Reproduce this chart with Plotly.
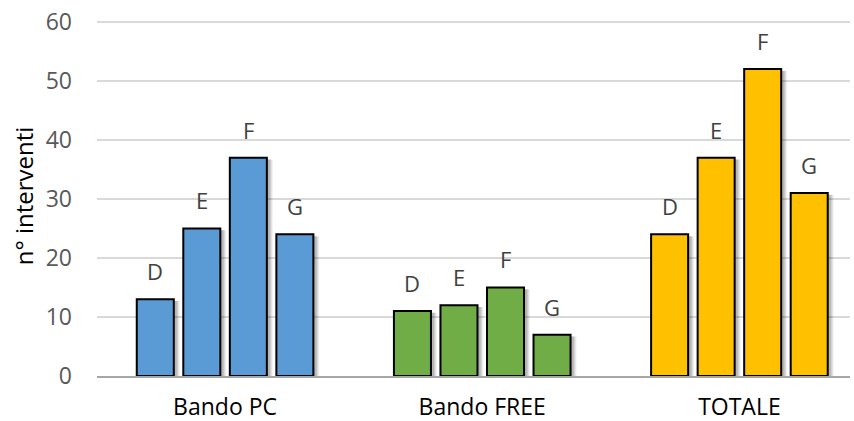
import plotly.graph_objects as go

categories = ["Bando PC", "Bando FREE", "TOTALE"]
series_names = ["D", "E", "F", "G"]
values_D = [13, 11, 24]
values_E = [25, 12, 37]
values_F = [37, 15, 52]
values_G = [24, 7, 31]
group_colors = ["#5B9BD5", "#70AD47", "#FFC000"]
y_ticks = [0, 10, 20, 30, 40, 50, 60]

series_values = [values_D, values_E, values_F, values_G]

unit = 257.0  # px per category
bar_w = 37 / unit
step = 46.5 / unit
offsets = [(-1.5 + i) * step for i in range(4)]

fig = go.Figure()
# soft shadow layers
for dx, op in [(6, 0.05), (5, 0.07), (4, 0.09), (3, 0.10)]:
    for i, vals in enumerate(series_values):
        fig.add_trace(go.Bar(
            x=[g + offsets[i] + dx / unit for g in range(len(categories))],
            y=[v - 0.3 for v in vals],
            width=bar_w,
            marker=dict(color=f"rgba(0,0,0,{op})", line=dict(width=0)),
            hoverinfo="skip", showlegend=False,
        ))
for i, vals in enumerate(series_values):
    fig.add_trace(go.Bar(
        x=[g + offsets[i] for g in range(len(categories))],
        y=vals,
        width=bar_w,
        name=series_names[i],
        marker=dict(color=group_colors, line=dict(color="#000000", width=2)),
        showlegend=False,
    ))
    for g, v in enumerate(vals):
        fig.add_annotation(
            x=g + offsets[i], y=v, text=series_names[i], showarrow=False,
            yanchor="middle", yshift=28,
            font=dict(family="Open Sans", size=22, color="#404040"),
        )

fig.update_layout(
    barmode="overlay",
    width=854, height=421,
    margin=dict(l=97, r=4, t=16, b=45),
    plot_bgcolor="white", paper_bgcolor="white",
    font=dict(family="Open Sans", color="#595959"),
)
fig.update_xaxes(
    range=[-0.498, 2.43], automargin=False,
    tickvals=list(range(len(categories))), ticktext=categories,
    tickfont=dict(size=23, color="#000000"),
    showgrid=False, zeroline=False,
    showline=True, linecolor="#A6A6A6", linewidth=1.5,
    ticks="", ticklabelstandoff=10, ticklabeloverflow="allow",
)
fig.update_yaxes(
    range=[0, 61], automargin=False,
    tickvals=y_ticks,
    tickfont=dict(size=23, color="#595959"),
    showgrid=True, gridcolor="#D9D9D9", gridwidth=1.5,
    zeroline=False, showline=False, ticks="",
    ticklabelstandoff=24, ticklabeloverflow="allow",
    title=dict(text="n° interventi", font=dict(size=24, color="#000000"), standoff=5),
)
fig.write_html("out.html", config={"displayModeBar": False},
               post_script="document.body.style.margin='0';")
